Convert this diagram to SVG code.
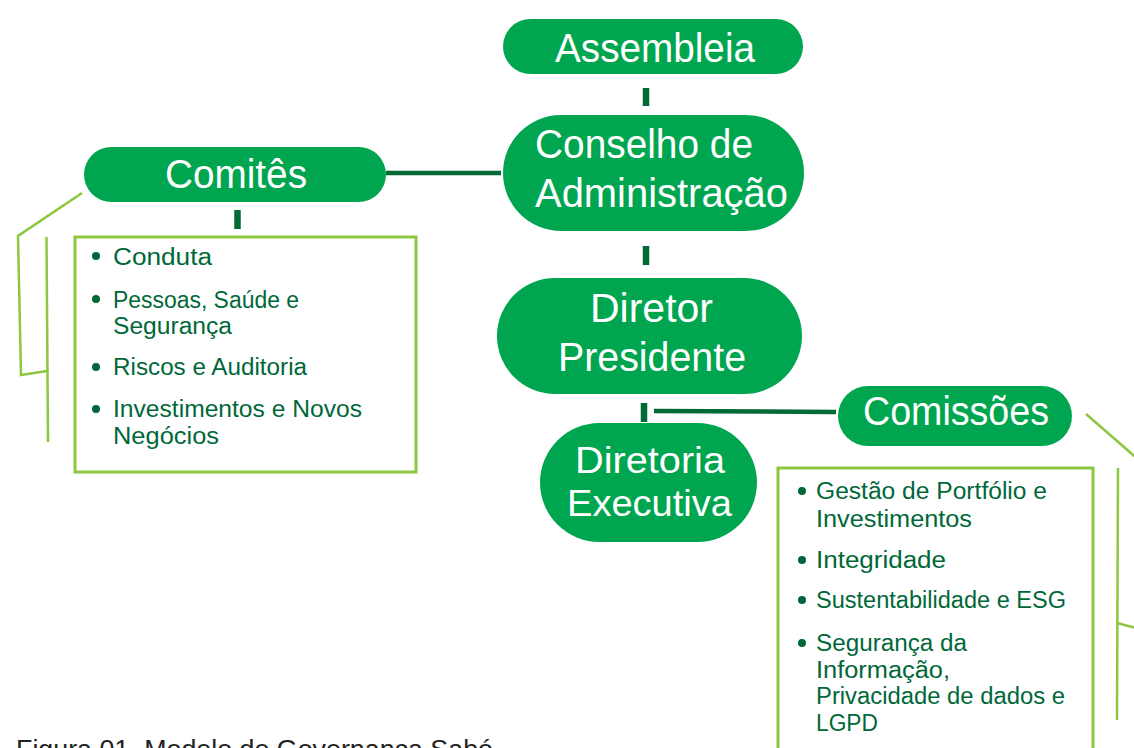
<svg xmlns="http://www.w3.org/2000/svg" width="1134" height="748" viewBox="0 0 1134 748">
<style>
.pill{fill:#00a64f}
.big{font-family:"Liberation Sans",Arial,sans-serif;font-size:40px;fill:#ffffff}
.mid{font-family:"Liberation Sans",Arial,sans-serif;font-size:36px;fill:#ffffff}
.item{font-family:"Liberation Sans",Arial,sans-serif;font-size:23px;fill:#006838}
.box{fill:none;stroke:#8dc63f;stroke-width:3}
.bl{fill:none;stroke:#8dc63f;stroke-width:2.5;stroke-linejoin:miter}
.dot{fill:#006838}
.tick{stroke:#006b35;stroke-width:6.5}
.conn{stroke:#006b35;stroke-width:4.5;fill:none}
.cap{font-family:"Liberation Sans",Arial,sans-serif;font-size:25px;fill:#222222}
</style>
<rect width="1134" height="748" fill="#ffffff"/>
<g id="connectors">
<line class="tick" x1="646" y1="88" x2="646" y2="106"/>
<line class="tick" x1="646" y1="246" x2="646" y2="265"/>
<line class="tick" x1="644" y1="403" x2="644" y2="422"/>
<line class="tick" x1="237.5" y1="210" x2="237.5" y2="229"/>
<line class="conn" x1="386" y1="173" x2="501" y2="173"/>
<line class="conn" x1="654" y1="411" x2="836" y2="412"/>
<polyline class="bl" points="82,193 18,236 21,375 47,371"/>
<line class="bl" x1="46.5" y1="237" x2="48" y2="442"/>
<line class="bl" x1="1086" y1="414" x2="1140" y2="461"/>
<line class="bl" x1="1118" y1="468" x2="1117" y2="720"/>
<line class="bl" x1="1117" y1="623" x2="1140" y2="629"/>
</g>
<g id="assembleia">
<rect class="pill" x="503" y="19" width="300" height="55" rx="27.5"/>
<text class="big" x="555" y="62" textLength="200" lengthAdjust="spacingAndGlyphs">Assembleia</text>
</g>
<g id="conselho">
<rect class="pill" x="503" y="115" width="301" height="116" rx="58"/>
<text class="big" x="535" y="158" textLength="218" lengthAdjust="spacingAndGlyphs">Conselho de</text>
<text class="big" x="535" y="207" textLength="253" lengthAdjust="spacingAndGlyphs">Administração</text>
</g>
<g id="diretor-presidente">
<rect class="pill" x="497" y="278" width="305" height="116" rx="58"/>
<text class="big" x="590" y="322" textLength="123" lengthAdjust="spacingAndGlyphs">Diretor</text>
<text class="big" x="558" y="371" textLength="188" lengthAdjust="spacingAndGlyphs">Presidente</text>
</g>
<g id="diretoria-executiva">
<rect class="pill" x="540" y="423" width="217" height="119" rx="59.5"/>
<text class="mid" x="575" y="473" textLength="150" lengthAdjust="spacingAndGlyphs">Diretoria</text>
<text class="mid" x="567" y="516" textLength="165" lengthAdjust="spacingAndGlyphs">Executiva</text>
</g>
<g id="comites">
<rect class="pill" x="84" y="147" width="302" height="55" rx="27.5"/>
<text class="big" x="165" y="188" textLength="142" lengthAdjust="spacingAndGlyphs">Comitês</text>
</g>
<g id="comites-lista">
<rect class="box" x="75" y="237" width="341" height="235"/>
<circle class="dot" cx="96" cy="256" r="4"/>
<text class="item" x="113" y="265" textLength="99" lengthAdjust="spacingAndGlyphs">Conduta</text>
<circle class="dot" cx="96" cy="299" r="4"/>
<text class="item" x="113" y="308" textLength="186" lengthAdjust="spacingAndGlyphs">Pessoas, Saúde e</text>
<text class="item" x="113" y="334" textLength="119" lengthAdjust="spacingAndGlyphs">Segurança</text>
<circle class="dot" cx="96" cy="367" r="4"/>
<text class="item" x="113" y="375" textLength="194" lengthAdjust="spacingAndGlyphs">Riscos e Auditoria</text>
<circle class="dot" cx="96" cy="409" r="4"/>
<text class="item" x="113" y="417" textLength="249" lengthAdjust="spacingAndGlyphs">Investimentos e Novos</text>
<text class="item" x="113" y="444" textLength="106" lengthAdjust="spacingAndGlyphs">Negócios</text>
</g>
<g id="comissoes">
<rect class="pill" x="838" y="386" width="234" height="60" rx="30"/>
<text class="big" x="863" y="425" textLength="186" lengthAdjust="spacingAndGlyphs">Comissões</text>
</g>
<g id="comissoes-lista">
<rect class="box" x="778" y="468" width="315" height="300"/>
<circle class="dot" cx="802" cy="491" r="4"/>
<text class="item" x="816" y="499" textLength="231" lengthAdjust="spacingAndGlyphs">Gestão de Portfólio e</text>
<text class="item" x="816" y="527" textLength="156" lengthAdjust="spacingAndGlyphs">Investimentos</text>
<circle class="dot" cx="802" cy="560" r="4"/>
<text class="item" x="816" y="568" textLength="130" lengthAdjust="spacingAndGlyphs">Integridade</text>
<circle class="dot" cx="802" cy="600" r="4"/>
<text class="item" x="816" y="608" textLength="250" lengthAdjust="spacingAndGlyphs">Sustentabilidade e ESG</text>
<circle class="dot" cx="802" cy="643" r="4"/>
<text class="item" x="816" y="651" textLength="151" lengthAdjust="spacingAndGlyphs">Segurança da</text>
<text class="item" x="816" y="678" textLength="134" lengthAdjust="spacingAndGlyphs">Informação,</text>
<text class="item" x="816" y="704" textLength="249" lengthAdjust="spacingAndGlyphs">Privacidade de dados e</text>
<text class="item" x="816" y="731" textLength="62" lengthAdjust="spacingAndGlyphs">LGPD</text>
</g>
<text class="cap" x="16" y="758" textLength="477" lengthAdjust="spacingAndGlyphs">Figura 01. Modelo de Governança Sabó</text>
</svg>
